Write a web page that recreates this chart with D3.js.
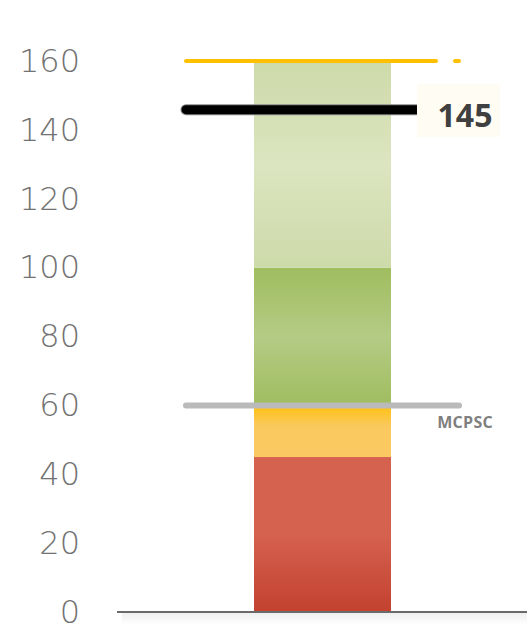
<!DOCTYPE html>
<html>
<head>
<meta charset="utf-8">
<script src="https://cdn.jsdelivr.net/npm/d3@7"></script>
<style>
  body { margin: 0; background: #fff; }
  svg { display: block; }
</style>
</head>
<body>
<svg id="chart" width="527" height="628"></svg>
<script>
'use strict';

// bands of the gauge (value ranges)
var bandStarts = [0, 45, 60, 100];
var bandEnds = [45, 60, 100, 160];
var bandTop = ['#d5614f', '#ffc010', '#a0bd5f', '#cddaa9'];
var bandMid = ['#d5614f', '#fac95e', '#b4cb85', '#dbe5c0'];
var bandBottom = ['#c3412f', '#fbc962', '#a0bd5f', '#cddaa9'];

var tickValues = [0, 20, 40, 60, 80, 100, 120, 140, 160];

var targetValue = 160;   // yellow line
var actualValue = 145;   // black line
var mcpscValue = 60;     // gray line
var mcpscLabel = 'MCPSC';

var svg = d3.select('#chart');
var defs = svg.append('defs');

var y = d3.scaleLinear().domain([0, 160]).range([612, 61]);
var x = d3.scaleLinear().domain([0, 1]).range([254, 391]);

// soft shadow below the axis
var sh = defs.append('linearGradient').attr('id', 'shadow')
  .attr('x1', 0).attr('y1', 0).attr('x2', 0).attr('y2', 1);
sh.append('stop').attr('offset', '0%').attr('stop-color', '#000').attr('stop-opacity', 0.06);
sh.append('stop').attr('offset', '100%').attr('stop-color', '#000').attr('stop-opacity', 0);

bandStarts.forEach(function (s, i) {
  var g = defs.append('linearGradient').attr('id', 'band' + i)
    .attr('x1', 0).attr('y1', 0).attr('x2', 0).attr('y2', 1);
  g.append('stop').attr('offset', '0%').attr('stop-color', bandTop[i]);
  g.append('stop').attr('offset', i == 1 ? '40%' : '50%').attr('stop-color', bandMid[i]);
  g.append('stop').attr('offset', '100%').attr('stop-color', bandBottom[i]);
});

svg.selectAll('rect.band')
  .data(bandStarts)
  .enter()
  .append('rect')
  .attr('class', 'band')
  .attr('x', x(0))
  .attr('width', x(1) - x(0))
  .attr('y', function (d, i) { return y(bandEnds[i]); })
  .attr('height', function (d, i) { return y(d) - y(bandEnds[i]); })
  .attr('fill', function (d, i) { return 'url(#band' + i + ')'; });

// y axis labels
var axis = d3.axisLeft(y).tickValues(tickValues).tickSize(0).tickPadding(0);
var ax = svg.append('g').attr('transform', 'translate(80,0)').call(axis);
ax.select('.domain').remove();
ax.selectAll('text')
  .attr('fill', '#727272')
  .style('font-family', '"DejaVu Sans", sans-serif')
  .style('font-weight', 200)
  .style('font-size', '32px');

// baseline
svg.append('rect').attr('x', 122).attr('y', 613).attr('width', 405).attr('height', 12)
  .attr('fill', 'url(#shadow)');
svg.append('line')
  .attr('x1', 117).attr('x2', 527)
  .attr('y1', y(0)).attr('y2', y(0))
  .attr('stroke', '#6a6a6a').attr('stroke-width', 2);

// target (yellow) line with a short dash
svg.append('line')
  .attr('x1', 186).attr('x2', 436)
  .attr('y1', y(targetValue)).attr('y2', y(targetValue))
  .attr('stroke', '#ffc000').attr('stroke-width', 4).attr('stroke-linecap', 'round');
svg.append('line')
  .attr('x1', 455).attr('x2', 459)
  .attr('y1', y(targetValue)).attr('y2', y(targetValue))
  .attr('stroke', '#ffc000').attr('stroke-width', 4).attr('stroke-linecap', 'round');

// MCPSC (gray) line
svg.append('line')
  .attr('x1', 186).attr('x2', 459)
  .attr('y1', y(mcpscValue)).attr('y2', y(mcpscValue))
  .attr('stroke', '#bababa').attr('stroke-width', 6).attr('stroke-linecap', 'round');
svg.append('text')
  .attr('x', 493).attr('y', y(mcpscValue) + 23)
  .attr('text-anchor', 'end')
  .attr('fill', '#7f7f7f')
  .style('font-family', '"Open Sans", sans-serif')
  .style('font-weight', 700)
  .style('font-size', '16px')
  .style('letter-spacing', '0.3px')
  .text(mcpscLabel);

// actual (black) line and its label
var ay = y(actualValue) - 3;
svg.append('line')
  .attr('x1', 186).attr('x2', 418)
  .attr('y1', ay).attr('y2', ay)
  .attr('stroke', '#888').attr('stroke-width', 11).attr('stroke-linecap', 'round');
svg.append('line')
  .attr('x1', 186).attr('x2', 418)
  .attr('y1', ay).attr('y2', ay)
  .attr('stroke', '#000').attr('stroke-width', 9).attr('stroke-linecap', 'round');
svg.append('rect')
  .attr('x', 417).attr('y', 84).attr('width', 83).attr('height', 53)
  .attr('fill', '#fffcf4');
svg.append('text')
  .attr('x', 465).attr('y', 127)
  .attr('text-anchor', 'middle')
  .attr('fill', '#404040')
  .style('font-family', '"Open Sans", sans-serif')
  .style('font-weight', 700)
  .style('font-size', '32px')
  .text(actualValue);
</script>
</body>
</html>
